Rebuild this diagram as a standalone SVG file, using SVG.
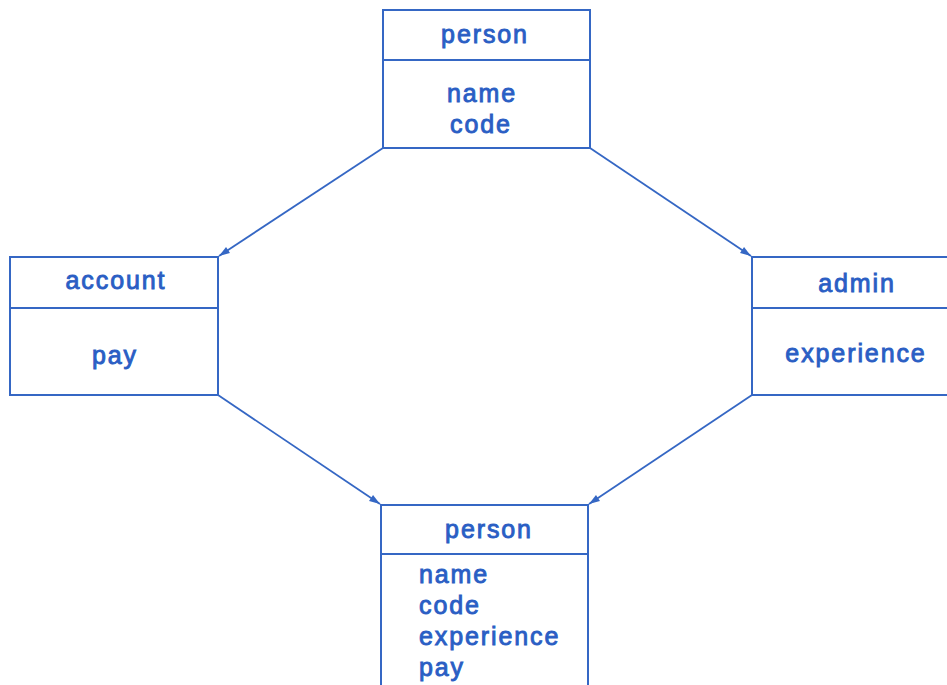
<svg xmlns="http://www.w3.org/2000/svg" width="947" height="685" viewBox="0 0 947 685">
<style>
.box{fill:#ffffff;stroke:#3567c4;stroke-width:2}
.div{stroke:#3567c4;stroke-width:2}
.t,.tl{font-family:"Liberation Sans",Arial,sans-serif;font-size:25px;letter-spacing:1.9px;fill:#2a5ec4;stroke:#2a5ec4;stroke-width:0.9px}
.t{text-anchor:middle}
.tl{text-anchor:start}
.c{stroke:#3567c4;stroke-width:1.8;fill:none;marker-end:url(#ah)}
</style>
<defs>
<marker id="ah" viewBox="0 0 12 10" refX="12" refY="5" markerWidth="12" markerHeight="9" orient="auto" markerUnits="userSpaceOnUse">
<path d="M0,1 L12,5 L0,9 z" fill="#3567c4"/>
</marker>
</defs>
<rect width="947" height="685" fill="#ffffff"/>
<g id="connectors">
<line class="c" x1="383" y1="148" x2="219" y2="256"/>
<line class="c" x1="590" y1="148" x2="751" y2="256"/>
<line class="c" x1="218" y1="395" x2="380" y2="504"/>
<line class="c" x1="752" y1="395" x2="589" y2="504"/>
</g>
<g id="person-top">
<rect class="box" x="383" y="10" width="207" height="138"/>
<line class="div" x1="383" y1="60" x2="590" y2="60"/>
<text class="t" x="485" y="43">person</text>
<text class="t" x="482" y="102">name</text>
<text class="t" x="481" y="133">code</text>
</g>
<g id="account">
<rect class="box" x="10" y="257" width="208" height="138"/>
<line class="div" x1="10" y1="308" x2="218" y2="308"/>
<text class="t" x="116" y="289">account</text>
<text class="t" x="115" y="364">pay</text>
</g>
<g id="admin">
<rect class="box" x="752" y="257" width="210" height="138"/>
<line class="div" x1="752" y1="308" x2="962" y2="308"/>
<text class="t" x="857" y="292">admin</text>
<text class="t" x="856" y="362">experience</text>
</g>
<g id="person-bottom">
<rect class="box" x="381" y="505" width="207" height="200"/>
<line class="div" x1="381" y1="554" x2="588" y2="554"/>
<text class="t" x="489" y="538">person</text>
<text class="tl" x="419" y="583">name</text>
<text class="tl" x="419" y="614">code</text>
<text class="tl" x="419" y="645">experience</text>
<text class="tl" x="419" y="676">pay</text>
</g>
</svg>
